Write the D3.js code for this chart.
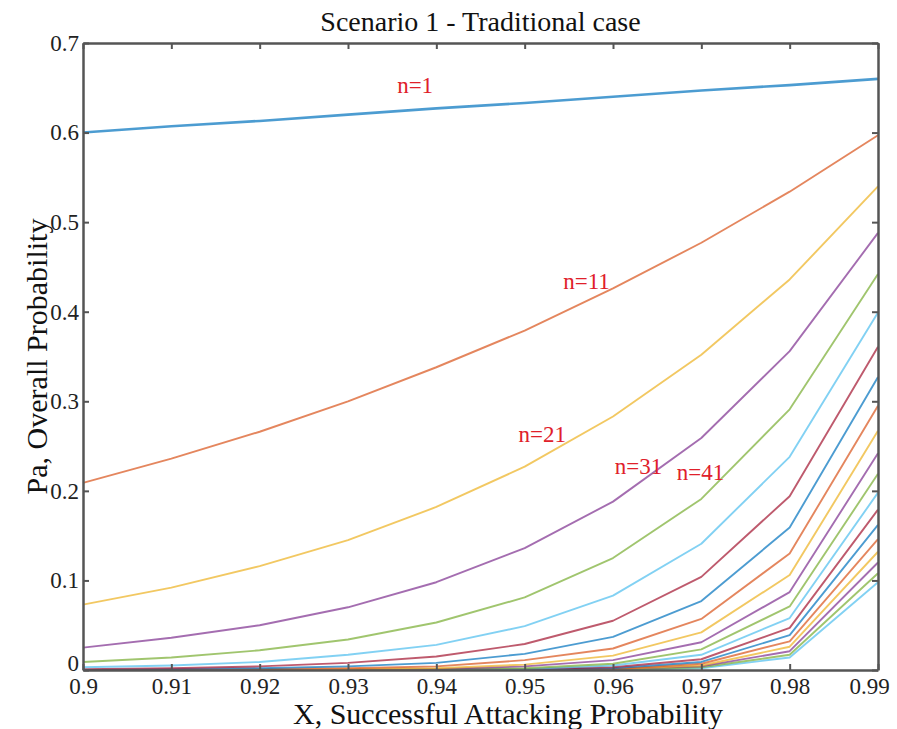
<!DOCTYPE html>
<html>
<head>
<meta charset="utf-8">
<script src="https://cdn.jsdelivr.net/npm/d3@7"></script>
<style>
  body { margin: 0; background: #fff; }
  text { font-family: "Liberation Serif", "Times New Roman", serif; }
</style>
</head>
<body>
<svg id="chart" width="897" height="729"></svg>
<script>
const xValues = [0.90, 0.91, 0.92, 0.93, 0.94, 0.95, 0.96, 0.97, 0.98, 0.99];
const nValues = [1, 11, 21, 31, 41, 51, 61, 71, 81, 91, 101, 111, 121, 131, 141, 151, 161, 171, 181, 191];

// Pa for each n (one row per curve)
const paValues = [
  [0.600, 0.607, 0.613, 0.620, 0.627, 0.633, 0.640, 0.647, 0.653, 0.660],
  [0.209, 0.236, 0.266, 0.300, 0.338, 0.379, 0.426, 0.477, 0.534, 0.597],
  [0.073, 0.092, 0.116, 0.145, 0.182, 0.227, 0.283, 0.352, 0.436, 0.540],
  [0.025, 0.036, 0.050, 0.070, 0.098, 0.136, 0.188, 0.259, 0.356, 0.488],
  [0.009, 0.014, 0.022, 0.034, 0.053, 0.081, 0.125, 0.191, 0.291, 0.442],
  [0.003, 0.005, 0.009, 0.017, 0.028, 0.049, 0.083, 0.141, 0.238, 0.399],
  [0.001, 0.002, 0.004, 0.008, 0.015, 0.029, 0.055, 0.104, 0.194, 0.361],
  [0.000, 0.001, 0.002, 0.004, 0.008, 0.018, 0.037, 0.077, 0.159, 0.327],
  [0.000, 0.000, 0.001, 0.002, 0.004, 0.011, 0.024, 0.057, 0.130, 0.295],
  [0.000, 0.000, 0.000, 0.001, 0.002, 0.006, 0.016, 0.042, 0.106, 0.267],
  [0.000, 0.000, 0.000, 0.000, 0.001, 0.004, 0.011, 0.031, 0.087, 0.242],
  [0.000, 0.000, 0.000, 0.000, 0.001, 0.002, 0.007, 0.023, 0.071, 0.219],
  [0.000, 0.000, 0.000, 0.000, 0.000, 0.001, 0.005, 0.017, 0.058, 0.198],
  [0.000, 0.000, 0.000, 0.000, 0.000, 0.001, 0.003, 0.012, 0.047, 0.179],
  [0.000, 0.000, 0.000, 0.000, 0.000, 0.000, 0.002, 0.009, 0.039, 0.162],
  [0.000, 0.000, 0.000, 0.000, 0.000, 0.000, 0.001, 0.007, 0.032, 0.146],
  [0.000, 0.000, 0.000, 0.000, 0.000, 0.000, 0.001, 0.005, 0.026, 0.132],
  [0.000, 0.000, 0.000, 0.000, 0.000, 0.000, 0.001, 0.004, 0.021, 0.120],
  [0.000, 0.000, 0.000, 0.000, 0.000, 0.000, 0.000, 0.003, 0.017, 0.108],
  [0.000, 0.000, 0.000, 0.000, 0.000, 0.000, 0.000, 0.002, 0.014, 0.098]
];

const xTicks = [0.90, 0.91, 0.92, 0.93, 0.94, 0.95, 0.96, 0.97, 0.98, 0.99];
const yTicks = [0, 0.1, 0.2, 0.3, 0.4, 0.5, 0.6, 0.7];

// curve labels: text and the (X, Pa) spot where they sit
const labelText = ["n=1", "n=11", "n=21", "n=31", "n=41"];
const labelX = [0.9376, 0.9570, 0.9520, 0.9629, 0.9699];
const labelY = [0.650, 0.431, 0.260, 0.225, 0.218];

const palette = ["#0072BD", "#D95319", "#EDB120", "#7E2F8E", "#77AC30", "#4DBEEE", "#A2142F"];

const svg = d3.select("#chart");
const margin = { top: 43, right: 19, bottom: 59, left: 83 };
const width = +svg.attr("width") - margin.left - margin.right;
const height = +svg.attr("height") - margin.top - margin.bottom;

const g = svg.append("g").attr("transform", `translate(${margin.left},${margin.top})`);

const x = d3.scaleLinear().domain([0.9, 0.99]).range([0, width]);
const y = d3.scaleLinear().domain([0, 0.7]).range([height, 0]);

const line = d3.line()
  .x((d, i) => x(xValues[i]))
  .y(d => y(d));

// draw last curves first so n=1 ends on top
const series = paValues.map((vals, i) => ({ n: nValues[i], vals, i })).reverse();

g.selectAll(".curve")
  .data(series)
  .enter().append("path")
  .attr("class", "curve")
  .attr("d", d => line(d.vals))
  .attr("fill", "none")
  .attr("stroke", d => palette[d.i % palette.length])
  .attr("stroke-opacity", 0.7)
  .attr("stroke-width", d => d.i === 0 ? 2.6 : 1.9)
  .attr("stroke-linejoin", "round");

// axes box with inward ticks on all four sides
const fmt = d => d === 0 ? "0" : String(+d.toFixed(2));

const xAxis = g.append("g")
  .attr("transform", `translate(0,${height})`)
  .call(d3.axisBottom(x).tickValues(xTicks).tickSizeInner(-6).tickSizeOuter(0).tickPadding(8).tickFormat(fmt));
const yAxis = g.append("g")
  .call(d3.axisLeft(y).tickValues(yTicks).tickSizeInner(-6).tickSizeOuter(0).tickPadding(4).tickFormat(fmt));
const xTop = g.append("g")
  .call(d3.axisTop(x).tickValues(xTicks).tickSizeInner(-6).tickSizeOuter(0).tickFormat(""));
const yRight = g.append("g")
  .attr("transform", `translate(${width},0)`)
  .call(d3.axisRight(y).tickValues(yTicks).tickSizeInner(-6).tickSizeOuter(0).tickFormat(""));

[xAxis, yAxis, xTop, yRight].forEach(a => {
  a.select(".domain").attr("stroke", "#555").attr("stroke-width", 2.5);
  a.selectAll(".tick line").attr("stroke", "#555").attr("stroke-width", 2);
  a.selectAll(".tick text")
    .attr("fill", "#222")
    .style("font-family", "'Liberation Serif', serif")
    .style("font-size", "23px");
});

// last x label sits a little left of its tick, as in the original
xAxis.selectAll(".tick text").filter(d => d === 0.99).attr("dx", -9);
yAxis.selectAll(".tick text").filter(d => d === 0).attr("dy", "0em");

// annotations
g.selectAll(".nlabel")
  .data(labelText)
  .enter().append("text")
  .attr("class", "nlabel")
  .attr("x", (d, i) => x(labelX[i]))
  .attr("y", (d, i) => y(labelY[i]))
  .attr("text-anchor", "middle")
  .attr("dominant-baseline", "middle")
  .attr("fill", "#e0202a")
  .style("font-size", "23px")
  .text(d => d);

// title and axis labels
svg.append("text")
  .attr("x", margin.left + width / 2)
  .attr("y", 31)
  .attr("text-anchor", "middle")
  .attr("fill", "#111")
  .style("font-size", "28px")
  .text("Scenario 1 - Traditional case");

svg.append("text")
  .attr("x", 508)
  .attr("y", 724)
  .attr("text-anchor", "middle")
  .attr("fill", "#111")
  .style("font-size", "30px")
  .text("X, Successful Attacking Probability");

svg.append("text")
  .attr("transform", `translate(47,${margin.top + height / 2}) rotate(-90)`)
  .attr("text-anchor", "middle")
  .attr("fill", "#111")
  .style("font-size", "30px")
  .text("Pa, Overall Probability");
</script>
</body>
</html>
